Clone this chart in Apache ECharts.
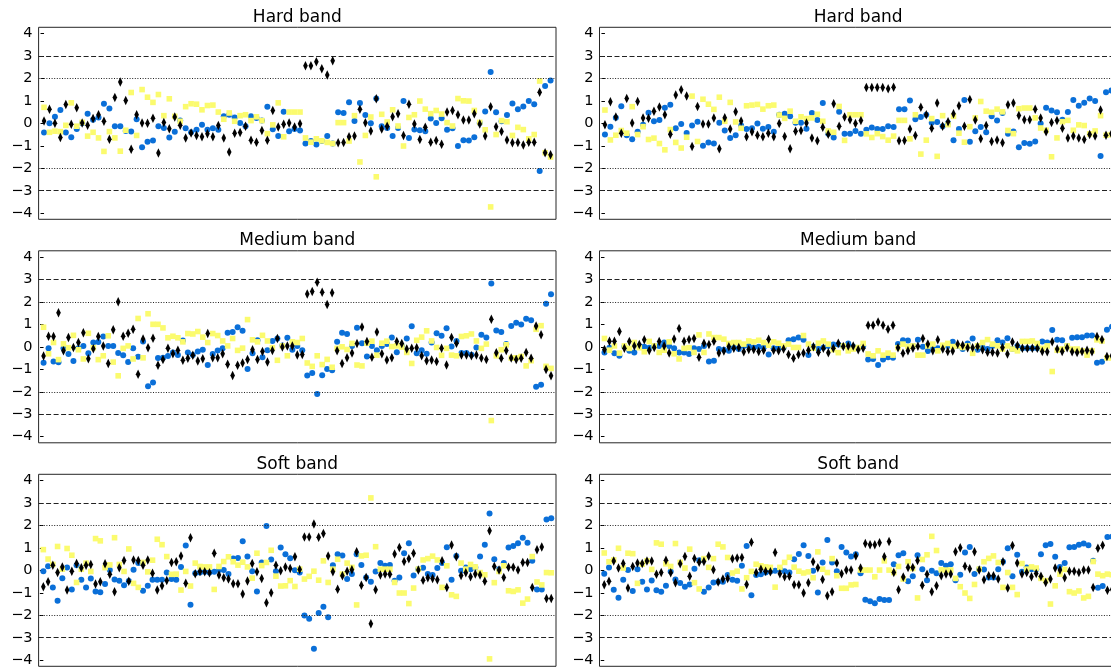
<!DOCTYPE html>
<html>
<head>
<meta charset="utf-8">
<script src="https://cdn.jsdelivr.net/npm/echarts@6/dist/echarts.min.js"></script>
<style>
html,body{margin:0;padding:0;background:#fff;}
#chart{width:1111px;height:669px;}
</style>
</head>
<body>
<div id="chart"></div>
<script>
// ---------------- DATA ----------------
const panelTitles = ['Hard band', 'Hard band', 'Medium band', 'Medium band', 'Soft band', 'Soft band'];
const yTicks = [-4, -3, -2, -1, 0, 1, 2, 3, 4];

// Hard band, left panel
const hardLeftBlue = [-0.41,0.0,0.29,0.59,-0.41,-0.62,-0.25,0.0,0.43,0.16,
0.26,0.87,0.66,-0.13,-0.13,-0.34,-0.37,0.18,-1.07,-0.82,
-0.76,-0.13,-0.21,-0.63,-0.38,0.12,-0.22,-0.40,-0.29,-0.07,
-0.29,-0.22,-0.29,0.31,0.38,0.26,0.01,-0.13,0.31,0.24,
0.13,0.74,-0.26,-0.57,0.51,-0.35,-0.25,-0.32,-0.90,-0.79,
-0.94,-0.79,-0.57,-0.90,0.49,0.46,0.94,0.10,0.90,0.37,
0.0,1.10,-0.13,-0.21,-0.57,-0.21,0.99,-0.65,-0.28,-0.31,
-0.35,0.21,0.01,0.22,-0.29,-0.22,-1.01,-0.75,-0.76,-0.62,
0.01,0.53,2.28,0.49,0.09,0.37,0.88,0.63,0.75,0.99,
0.85,-2.12,1.66,1.90];
const hardLeftYellow = [0.71,-0.40,-0.35,-0.37,-0.09,0.91,-0.13,0.04,-0.57,-0.40,
-0.65,-1.25,-0.37,-0.65,-1.24,-0.31,1.37,-0.54,1.50,1.16,
0.93,1.28,0.34,1.09,0.31,0.09,0.74,0.87,0.85,0.60,
0.79,0.81,0.50,0.18,0.46,0.09,0.34,0.38,0.12,0.29,
0.12,-0.46,-0.07,0.91,-0.60,0.50,0.50,0.50,-0.65,-0.84,
-0.69,-0.78,-0.85,-0.90,0.03,0.03,-0.79,0.34,-1.72,-0.54,
0.28,-2.38,0.40,0.06,0.60,-0.12,-1.01,0.26,0.38,0.99,
0.63,0.43,0.57,0.41,0.03,-0.12,1.10,1.00,0.99,0.57,
0.04,-0.29,-3.72,-0.50,0.12,0.07,-0.54,-0.18,-0.28,-0.69,
-0.50,1.88,-1.31,-1.50];
const hardLeftBlack = [0.10,0.63,0.0,-0.63,0.84,-0.04,0.69,0.01,-0.09,0.21,
0.38,0.09,-0.71,1.15,1.84,1.01,-1.15,0.38,0.01,0.0,
0.22,-1.32,0.04,-0.24,0.28,-0.09,-0.65,-0.43,-0.54,-0.60,
-0.47,-0.60,-0.10,-0.65,-1.28,-0.44,-0.41,-0.13,-0.75,-0.84,
-0.32,-0.75,0.57,-0.16,-0.04,0.01,-0.16,-0.02,2.56,2.56,
2.74,2.43,2.15,2.78,-0.87,-0.85,-0.60,-0.57,0.62,0.03,
-0.34,1.09,-0.25,-0.13,0.29,0.43,-0.54,0.85,-0.03,-0.72,
-0.18,-0.84,-0.76,-0.93,0.50,0.57,0.38,0.15,0.15,0.43,
-0.03,-0.57,0.74,-0.15,-0.37,-0.74,-0.87,-0.85,-0.96,-0.84,
-0.84,1.38,-1.31,-1.40];

// Hard band, right panel
const hardRightBlue = [-0.50,-0.15,0.25,0.76,-0.53,-0.71,-0.38,-0.06,0.47,0.09,
0.15,0.69,0.82,-0.22,-0.03,-0.43,-0.10,0.07,-1.00,-0.85,
-0.90,0.03,-0.32,-0.65,-0.53,-0.10,-0.25,-0.22,-0.01,-0.24,
-0.16,-0.38,0.38,0.43,0.31,0.03,0.03,-0.24,0.46,0.15,
0.90,-0.46,-0.63,0.51,-0.46,-0.46,-0.34,-0.46,-0.29,-0.19,
-0.25,-0.25,-0.13,-0.16,0.63,0.63,1.01,0.18,0.28,0.38,
0.03,0.06,-0.13,0.01,-0.75,-0.25,1.04,-0.82,-0.35,-0.16,
-0.40,0.31,0.12,0.46,-0.46,-0.37,-1.06,-0.88,-0.91,-0.81,
-0.01,0.69,0.57,0.49,0.16,0.50,1.04,0.78,0.91,1.10,
0.99,-1.46,1.38,1.46];
const hardRightYellow = [0.59,-0.74,-0.53,-0.32,-0.44,0.74,-0.50,-0.15,-0.72,-0.66,
-0.90,-1.18,-0.28,-0.85,-1.10,-0.62,1.21,-0.81,1.07,0.85,
0.62,1.16,0.09,0.93,0.06,-0.22,0.78,0.81,0.84,0.63,
0.78,0.81,0.37,0.22,0.54,0.09,0.29,0.21,0.24,0.40,
0.09,-0.34,-0.40,0.75,-0.76,0.38,0.38,0.38,-0.47,-0.63,
-0.46,-0.59,-0.75,-0.57,0.13,0.13,-0.69,0.38,-1.37,-0.75,
0.21,-1.47,0.34,-0.06,0.31,-0.44,-0.84,-0.15,0.24,0.97,
0.54,0.49,0.63,0.51,-0.32,-0.46,0.65,0.68,0.68,0.24,
-0.21,-0.31,-1.49,-0.65,0.07,0.13,-0.31,-0.07,-0.10,-0.47,
-0.34,0.34,-0.53,-0.50];
const hardRightBlack = [-0.06,0.96,0.28,-0.44,1.10,0.01,0.97,0.24,0.22,0.54,
0.72,0.38,-0.49,1.26,1.49,1.21,-1.03,0.75,-0.03,-0.03,
0.24,-1.13,0.25,-0.25,0.51,0.10,-0.60,-0.38,-0.53,-0.60,
-0.44,-0.60,-0.01,-0.59,-1.13,-0.35,-0.32,0.01,-0.65,-0.78,
-0.18,-0.49,0.87,-0.13,0.28,0.16,-0.01,0.12,1.59,1.59,
1.59,1.59,1.54,1.60,-0.78,-0.76,-0.25,-0.54,0.71,0.38,
-0.22,0.90,-0.13,0.07,0.43,0.78,-0.13,1.06,0.15,-0.69,
-0.10,-0.81,-0.74,-0.87,0.82,0.90,0.35,0.16,0.16,0.62,
0.24,-0.38,0.04,0.12,-0.22,-0.65,-0.57,-0.65,-0.72,-0.50,
-0.57,0.59,-0.53,-0.47];

// Medium band, left panel
const medLeftBlue = [-0.71,-0.07,-0.65,-0.69,-0.07,-0.32,-0.63,-0.07,0.04,-0.29,
0.19,0.21,0.46,0.04,0.04,-0.28,-0.38,-0.68,-0.07,-0.44,
0.24,-1.76,-1.59,-0.50,-0.49,-0.41,-0.25,-0.37,0.28,-0.25,
-0.37,-0.21,-0.13,-0.81,-0.32,-0.16,-0.07,0.63,0.66,0.87,
0.71,-0.99,-0.29,0.29,-0.47,-0.15,0.26,0.37,0.06,0.40,
-0.13,0.04,-0.15,-1.28,-1.16,-2.10,-1.26,-0.99,-1.04,0.22,
0.63,0.57,0.04,0.85,0.16,-0.43,0.04,-0.15,0.04,0.12,
0.41,-0.24,0.04,0.37,0.91,-0.29,-0.15,-0.31,0.19,0.60,
0.49,0.82,0.01,0.26,-0.28,-0.28,-0.35,-0.03,0.54,0.41,
2.82,0.72,0.66,0.12,0.93,1.07,0.99,1.25,1.18,-1.78,
-1.69,1.91,2.34];
const medLeftYellow = [0.87,-0.31,0.19,-0.57,0.13,-0.04,0.51,-0.13,-0.54,0.60,
-0.04,-0.57,-0.40,0.49,-0.68,-1.29,-0.07,0.04,-0.54,1.26,
-0.49,1.47,1.00,1.00,0.84,0.40,0.47,0.40,0.22,0.59,
0.57,0.68,0.43,0.19,0.59,0.50,0.26,0.04,0.37,-0.16,
-0.06,1.21,0.31,0.22,0.51,0.26,-0.04,-0.60,0.04,-0.40,
0.22,0.19,0.37,-0.72,-0.87,-0.40,-0.79,-0.56,-0.91,-0.07,
0.0,-0.12,0.15,-0.81,-0.85,0.16,0.25,-0.37,0.16,0.25,
0.01,0.04,-0.01,-0.25,-0.74,0.29,0.43,0.71,0.26,-0.03,
-0.38,-0.07,-0.37,-0.40,0.46,0.49,0.57,0.26,-0.07,0.12,
-3.28,-0.40,-0.13,0.09,-0.50,-0.49,-0.43,-0.85,-0.62,0.78,
0.94,-0.87,-0.96];
const medLeftBlack = [-0.41,0.47,0.46,1.51,-0.18,0.41,-0.03,0.19,0.63,-0.53,
-0.09,0.46,0.04,-0.74,0.76,2.00,0.47,0.60,0.78,-1.22,
0.35,-0.04,0.38,-0.82,-0.57,-0.07,-0.31,-0.15,-0.60,-0.51,
-0.38,-0.63,-0.53,0.59,-0.49,-0.49,-0.31,-0.78,-1.28,-0.82,
-0.72,-0.56,-0.13,-0.57,-0.21,-0.68,-0.16,0.37,-0.01,0.04,
0.04,-0.37,-0.34,2.35,2.46,2.87,2.43,1.88,2.40,-0.18,
-0.74,-0.49,-0.28,0.15,0.88,0.24,-0.46,0.66,-0.31,-0.59,
-0.49,0.24,0.15,-0.10,-0.07,-0.04,-0.40,-0.62,-0.59,-0.65,
-0.07,-0.81,0.41,0.16,-0.37,-0.37,-0.40,-0.37,-0.50,-0.56,
1.22,-0.26,-0.51,-0.16,-0.50,-0.56,-0.51,-0.25,-0.51,0.93,
0.54,-1.01,-1.29];

// Medium band, right panel
const medRightBlue = [-0.25,-0.04,-0.29,-0.40,0.01,-0.18,-0.25,0.04,0.0,-0.04,
0.04,0.04,0.19,0.04,-0.06,-0.25,-0.25,-0.32,-0.07,-0.10,
0.04,-0.65,-0.62,-0.10,-0.13,-0.18,-0.03,-0.10,0.04,0.04,
-0.03,0.0,-0.03,-0.34,-0.07,-0.04,-0.04,0.29,0.34,0.41,
0.31,-0.37,0.0,-0.10,-0.03,0.04,0.10,0.10,0.04,0.15,
0.0,-0.07,0.04,-0.57,-0.54,-0.81,-0.57,-0.47,-0.49,0.12,
0.29,0.28,0.04,0.31,0.0,-0.19,-0.03,-0.06,0.04,0.04,
0.22,0.04,-0.10,0.15,0.37,-0.13,-0.03,-0.10,0.04,0.29,
0.19,0.38,-0.10,0.04,-0.07,-0.07,-0.07,-0.07,0.24,0.19,
0.75,0.31,0.29,0.04,0.40,0.43,0.43,0.50,0.50,-0.71,
-0.66,0.76,0.90];
const medRightYellow = [0.37,-0.15,0.04,-0.28,0.04,-0.07,0.19,-0.04,-0.22,0.24,
0.04,-0.25,-0.15,0.22,-0.31,-0.54,-0.07,-0.04,-0.25,0.53,
-0.25,0.57,0.41,0.41,0.34,0.15,0.19,0.19,0.12,0.26,
0.22,0.29,0.19,0.07,0.22,0.16,0.04,0.12,-0.03,-0.03,
0.50,0.12,-0.06,0.16,0.26,0.12,-0.13,-0.26,0.04,-0.18,
-0.10,-0.03,0.15,-0.32,-0.40,-0.18,-0.37,-0.28,-0.37,-0.04,
0.12,0.01,0.04,-0.37,-0.37,0.04,0.12,-0.18,0.07,0.15,
0.01,0.04,-0.03,0.04,-0.29,0.04,0.19,0.32,0.12,0.04,
-0.10,0.04,-0.10,-0.18,0.24,0.24,0.26,0.15,-0.07,0.04,
-1.10,-0.15,-0.10,0.04,-0.10,-0.10,-0.18,-0.37,-0.18,0.31,
0.26,-0.49,-0.50];
const medRightBlack = [-0.12,0.25,0.25,0.68,-0.06,0.24,0.04,0.10,0.31,-0.16,
-0.03,0.24,0.04,-0.28,0.35,0.81,0.25,0.32,0.37,-0.46,
0.16,0.10,0.25,-0.28,-0.19,0.0,-0.07,-0.03,-0.22,-0.12,
-0.12,-0.21,-0.15,0.34,-0.15,-0.18,-0.10,-0.34,-0.51,-0.34,
-0.28,-0.15,0.0,-0.24,-0.06,-0.26,-0.06,0.16,0.01,0.04,
0.04,-0.13,-0.07,0.96,0.96,1.10,0.96,0.78,0.96,-0.04,
-0.29,-0.18,-0.07,0.03,0.37,0.13,-0.18,0.31,-0.10,-0.21,
-0.19,0.13,0.07,-0.04,-0.04,0.01,-0.13,-0.24,-0.24,-0.28,
-0.03,-0.32,0.21,0.06,-0.07,-0.07,-0.07,-0.07,-0.21,-0.22,
0.22,-0.10,-0.21,-0.04,-0.22,-0.25,-0.21,-0.15,-0.22,0.46,
0.32,-0.43,-0.40];

// Soft band, left panel
const softLeftBlue = [-0.04,0.18,-0.76,-1.35,-0.35,0.12,-0.85,0.23,-0.42,-0.76,
-0.36,-0.94,-0.98,-0.61,0.01,-0.41,-0.46,-0.66,-0.48,0.02,
0.33,-0.91,-0.69,-0.42,-0.42,-0.42,-0.10,-0.39,-0.42,0.15,
1.10,-1.53,-0.13,-0.10,-0.07,-0.10,-0.07,0.01,0.01,-0.17,
0.52,0.55,1.29,0.61,-0.04,-0.94,0.35,1.97,0.48,-0.04,
1.01,0.71,0.54,0.0,-0.10,-2.01,-2.16,-3.49,-1.90,-1.62,
-2.09,0.23,0.71,0.66,-0.39,-0.17,0.71,0.24,-0.32,-0.51,
-0.05,0.32,0.20,0.24,-0.46,-0.32,0.76,1.20,-0.23,0.05,
0.11,-0.17,-0.21,0.10,0.32,1.03,-0.42,0.64,-0.02,0.13,
0.05,0.13,0.61,1.14,2.53,0.49,0.05,0.32,1.01,1.08,
1.20,1.45,1.23,0.42,-0.85,-0.85,2.26,2.32];
const softLeftYellow = [0.92,0.50,0.26,1.06,0.05,0.97,0.67,-0.54,0.05,0.32,
-0.05,1.41,1.31,0.12,0.24,1.45,0.26,-0.05,0.95,-0.58,
-0.76,0.35,-0.07,0.45,1.38,1.14,0.61,-0.18,-0.17,-0.88,
-0.05,-0.70,0.32,0.17,0.15,0.15,-0.85,0.17,0.39,0.60,
0.38,0.23,0.36,0.15,-0.35,0.76,0.21,0.35,0.89,-0.26,
-0.70,-0.69,-0.46,-0.72,0.05,-0.39,-0.27,-0.04,-0.44,0.42,
-0.54,0.05,0.49,-0.17,0.32,0.13,-1.54,0.64,0.67,3.22,
1.05,0.05,0.05,0.05,-0.54,-1.01,-1.01,-1.48,-0.79,0.05,
0.46,0.52,0.63,0.46,-0.76,0.20,-1.09,-1.16,0.32,0.05,
0.26,0.15,-0.10,-0.20,-3.94,-0.55,-0.05,0.20,-0.91,-0.94,
-0.87,-1.46,-1.28,0.61,-0.52,-0.65,-0.10,-0.11];
const softLeftBlack = [-0.73,-0.51,0.23,-0.10,0.15,-0.88,-0.04,0.30,0.11,0.23,
0.26,-0.61,-0.51,0.29,-0.18,-0.95,0.11,0.44,-0.49,0.46,
0.44,0.23,0.46,-0.13,-0.88,-0.69,-0.45,0.35,0.38,0.64,
-0.58,1.45,-0.15,-0.05,-0.07,-0.11,0.76,-0.21,-0.33,-0.39,
-0.60,-0.60,-1.05,-0.48,0.30,-0.07,-0.36,-1.44,-1.00,0.23,
-0.02,0.15,0.08,0.60,0.04,1.48,1.48,2.06,1.47,1.64,
0.64,-0.07,-0.84,-0.24,-0.04,0.02,0.83,-0.66,-0.32,-2.38,
-0.86,-0.21,-0.17,-0.18,0.73,1.01,0.39,0.51,0.76,0.01,
-0.44,-0.33,-0.36,-0.42,0.42,-0.76,1.13,0.60,-0.23,-0.11,
-0.29,-0.17,-0.21,-0.49,1.76,0.17,0.01,-0.32,0.14,0.14,
0.01,0.35,0.35,-0.76,0.91,1.04,-1.25,-1.25];

// Soft band, right panel
const softRightBlue = [-0.15,0.13,-0.86,-1.22,-0.42,0.01,-0.92,0.05,-0.51,-0.85,
-0.45,-0.89,-0.95,-0.69,-0.05,-0.41,-0.57,-0.73,-0.63,0.07,
0.45,-0.95,-0.76,-0.54,-0.51,-0.51,-0.21,-0.42,-0.47,0.20,
1.08,-1.11,-0.21,-0.18,-0.10,-0.05,-0.02,0.05,-0.04,-0.10,
0.49,0.73,1.11,0.64,-0.02,-0.99,0.35,1.35,0.35,-0.04,
1.04,0.79,0.61,0.71,-0.13,-1.31,-1.38,-1.47,-1.28,-1.32,
-1.32,0.27,0.67,0.76,-0.49,-0.27,0.67,0.05,-0.44,-0.02,
-0.13,0.33,0.20,0.27,-0.44,-0.20,0.79,1.04,-0.17,0.05,
0.04,-0.32,-0.32,0.05,0.38,0.98,-0.26,0.69,-0.07,0.13,
0.05,0.05,0.71,1.11,1.17,0.60,0.15,0.32,1.02,1.04,
1.14,1.19,1.11,0.42,-0.78,-0.70,1.48,1.50];
const softRightYellow = [0.77,0.38,0.46,0.98,0.10,0.76,0.74,-0.58,0.27,0.42,
0.04,1.22,1.16,0.29,0.17,1.19,0.35,0.10,0.94,-0.55,
-0.83,0.52,0.13,0.52,1.16,1.04,0.57,-0.12,-0.04,-0.83,
-0.33,-0.05,0.27,0.20,0.15,0.13,-0.75,0.13,0.35,0.58,
0.14,-0.04,-0.12,-0.07,-0.33,0.82,0.05,-0.10,0.52,-0.24,
-0.80,-0.80,-0.65,-0.63,0.01,0.01,0.01,-0.29,0.01,0.42,
0.01,-0.10,0.17,-0.39,0.38,0.08,-1.23,0.48,0.69,1.51,
0.88,0.02,0.01,0.01,-0.36,-0.73,-1.01,-1.25,-0.63,0.05,
0.38,0.53,0.64,0.35,-0.76,-0.10,-0.76,-1.08,0.30,0.05,
0.15,0.10,-0.36,-0.46,-1.50,-0.69,-0.17,0.04,-0.95,-1.01,
-0.92,-1.23,-1.16,0.39,-0.17,-0.24,-0.17,-0.20];
const softRightBlack = [-0.64,-0.49,0.41,0.10,0.30,-0.79,0.17,0.32,0.30,0.41,
0.41,-0.18,-0.10,0.45,-0.11,-0.55,0.29,0.61,-0.26,0.53,
0.36,0.39,0.64,0.02,-0.52,-0.39,-0.36,0.51,0.55,0.57,
-0.63,1.25,-0.10,0.05,-0.04,-0.07,0.79,-0.15,-0.29,-0.27,
-0.64,-0.64,-1.01,-0.55,0.38,0.11,-0.41,-1.13,-0.95,0.32,
-0.15,0.01,0.01,0.64,0.10,1.19,1.14,1.14,1.22,0.60,
1.28,-0.10,-0.86,-0.30,0.13,0.13,0.44,-0.66,-0.18,-0.95,
-0.69,-0.24,-0.17,-0.17,0.83,1.00,0.18,0.07,0.82,0.01,
-0.42,-0.24,-0.24,-0.39,0.38,-0.79,1.10,0.32,-0.17,-0.10,
-0.29,-0.14,-0.27,-0.54,-0.39,0.10,0.01,-0.33,-0.04,-0.04,
-0.10,0.01,0.01,-0.77,0.98,1.11,-0.89,-0.85];

// ---------------- CHART ----------------
const panels = [
  [hardLeftBlue, hardLeftYellow, hardLeftBlack],
  [hardRightBlue, hardRightYellow, hardRightBlack],
  [medLeftBlue, medLeftYellow, medLeftBlack],
  [medRightBlue, medRightYellow, medRightBlack],
  [softLeftBlue, softLeftYellow, softLeftBlack],
  [softRightBlue, softRightYellow, softRightBlack]
];

const FONT = 'DejaVu Sans';
const colLeft = [38.6, 599.5];
const rowTop = [27.3, 250.8, 474.3];
const W = 517.4, H = 192;
const YMIN = -4.27, YMAX = 4.27;

const fmt = v => (v < 0 ? '\u2212' + (-v) : String(v));
const toPts = arr => arr.map((v, i) => [i, v]);

const grids = [], xAxes = [], yAxes = [], series = [], graphics = [];
panels.forEach((p, k) => {
  const col = k % 2, row = Math.floor(k / 2);
  const n = p[0].length;
  grids.push({
    left: colLeft[col], top: rowTop[row], width: W, height: H,
    containLabel: false, outerBoundsMode: 'none',
    show: true, borderColor: '#262626', borderWidth: 1, backgroundColor: 'transparent'
  });
  xAxes.push({ type: 'value', gridIndex: k, min: -1, max: n, show: false });
  yAxes.push({
    type: 'value', gridIndex: k, min: YMIN, max: YMAX,
    axisLine: { show: false },
    splitLine: { show: false },
    axisTick: { show: true, customValues: yTicks, length: 3.5, inside: false,
      lineStyle: { color: '#000', width: 1 } },
    axisLabel: { show: true, customValues: yTicks, formatter: fmt, margin: 6,
      color: '#000', fontFamily: FONT, fontSize: 14.5 }
  });
  const common = { type: 'scatter', xAxisIndex: k, yAxisIndex: k, silent: true, animation: false };
  series.push(Object.assign({}, common, {
    name: 'blue' + k, data: toPts(p[0]), symbol: 'circle', symbolSize: 6, z: 3,
    itemStyle: { color: '#0a6fd8', opacity: 1 },
    markLine: {
      silent: true, symbol: ['none', 'none'], label: { show: false }, animation: false,
      data: [
        { yAxis: 3, lineStyle: { type: [5, 2.5], color: '#222', width: 1 } },
        { yAxis: -3, lineStyle: { type: [5, 2.5], color: '#222', width: 1 } },
        { yAxis: 2, lineStyle: { type: [1, 1.6], color: '#222', width: 1 } },
        { yAxis: -2, lineStyle: { type: [1, 1.6], color: '#222', width: 1 } }
      ]
    }
  }));
  series.push(Object.assign({}, common, {
    name: 'yellow' + k, data: toPts(p[1]), symbol: 'rect', symbolSize: 5.6, z: 4,
    itemStyle: { color: '#fbfb6e', opacity: 1 }
  }));
  series.push(Object.assign({}, common, {
    name: 'black' + k, data: toPts(p[2]), symbol: 'diamond', symbolSize: [4.6, 9.5], z: 5,
    itemStyle: { color: '#000', opacity: 1 }
  }));
  graphics.push({
    type: 'text', x: colLeft[col] + W / 2, y: rowTop[row] - 10,
    style: { text: panelTitles[k], font: '17px "' + FONT + '"', fill: '#000',
      align: 'center', verticalAlign: 'middle', textAlign: 'center', textVerticalAlign: 'middle' }
  });
});

const chart = echarts.init(document.getElementById('chart'), null, { renderer: 'canvas' });
chart.setOption({
  animation: false,
  backgroundColor: '#fff',
  grid: grids,
  xAxis: xAxes,
  yAxis: yAxes,
  series: series,
  graphic: graphics
});
</script>
</body>
</html>
